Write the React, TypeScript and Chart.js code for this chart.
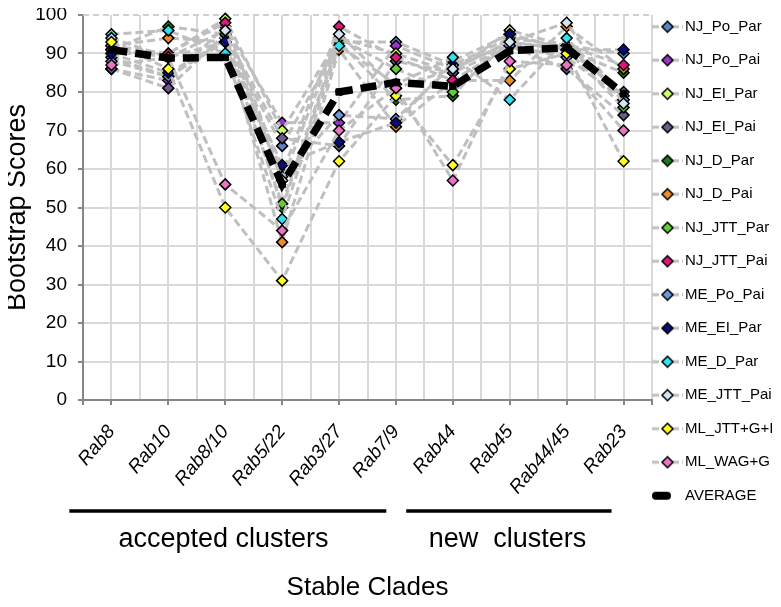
import React, { useEffect, useRef } from 'react';
import { Chart, registerables } from 'chart.js';

Chart.register(...registerables);

const categories = ['Rab8', 'Rab10', 'Rab8/10', 'Rab5/22', 'Rab3/27', 'Rab7/9', 'Rab44', 'Rab45', 'Rab44/45', 'Rab23'];

const NJ_Po_Par = [89, 84, 94, 66, 93, 93, 87, 94, 92, 90];
const NJ_Po_Pai = [86, 83, 97, 72, 72, 92, 86, 93, 91, 80];
const NJ_EI_Par = [92, 90, 99, 70, 94, 90, 85, 96, 92, 79];
const NJ_EI_Pai = [86, 81, 95, 68, 66, 88, 85, 92, 86, 74];
const NJ_D_Par = [91, 97, 95, 50, 93, 78, 79, 95, 91, 85];
const NJ_D_Pai = [92, 94, 93, 41, 91, 71, 83, 83, 97, 86];
const NJ_JTT_Par = [91, 89, 93, 51, 94, 86, 80, 93, 91, 76];
const NJ_JTT_Pai = [90, 90, 98, 59, 97, 89, 83, 92, 92, 87];
const ME_Po_Pai = [88, 84, 93, 58, 74, 73, 87, 92, 89, 78];
const ME_EI_Par = [90, 85, 93, 61, 67, 72, 88, 95, 91, 91];
const ME_D_Par = [95, 96, 90, 47, 92, 82, 89, 78, 94, 78];
const ME_JTT_Pai = [94, 89, 96, 57, 95, 81, 86, 93, 98, 77];
const ML_JTT_G_I = [93, 86, 50, 31, 62, 79, 61, 86, 90, 62];
const ML_WAG_G = [87, 89, 56, 44, 70, 81, 57, 88, 87, 70];
const AVERAGE = [91, 88.8, 89, 56, 80, 82.5, 81.5, 90.7, 91.5, 79.5];

const seriesNames = ['NJ_Po_Par', 'NJ_Po_Pai', 'NJ_EI_Par', 'NJ_EI_Pai', 'NJ_D_Par', 'NJ_D_Pai', 'NJ_JTT_Par', 'NJ_JTT_Pai', 'ME_Po_Pai', 'ME_EI_Par', 'ME_D_Par', 'ME_JTT_Pai', 'ML_JTT+G+I', 'ML_WAG+G'];
const seriesValues = [NJ_Po_Par, NJ_Po_Pai, NJ_EI_Par, NJ_EI_Pai, NJ_D_Par, NJ_D_Pai, NJ_JTT_Par, NJ_JTT_Pai, ME_Po_Pai, ME_EI_Par, ME_D_Par, ME_JTT_Pai, ML_JTT_G_I, ML_WAG_G];
const seriesColors = ['#5b84c4', '#9b35c9', '#ccff66', '#6e5a8e', '#1e7a1e', '#f08a24', '#66cc33', '#e0157a', '#6f98d8', '#0a0a78', '#33e0f0', '#d6e4f2', '#ffff22', '#ec72c6'];

const yTicks = [0, 10, 20, 30, 40, 50, 60, 70, 80, 90, 100];
const groupLabels = ['accepted clusters', 'new  clusters'];
const groupStart = [-0.74, 5.18];
const groupEnd = [4.83, 8.79];
const groupCenter = [1.97, 6.96];

const FONT = '"Liberation Sans", Arial, sans-serif';

function makeIcon(fill: string | null): HTMLCanvasElement {
  const c = document.createElement('canvas');
  c.width = 31;
  c.height = 14;
  const g = c.getContext('2d')!;
  if (fill) {
    g.strokeStyle = '#bfbfbf';
    g.lineWidth = 3;
    g.setLineDash([7, 3]);
    g.beginPath();
    g.moveTo(0, 7);
    g.lineTo(31, 7);
    g.stroke();
    g.setLineDash([]);
    g.beginPath();
    g.moveTo(15.5, 1.5);
    g.lineTo(21, 7);
    g.lineTo(15.5, 12.5);
    g.lineTo(10, 7);
    g.closePath();
    g.fillStyle = fill;
    g.fill();
    g.strokeStyle = '#000';
    g.lineWidth = 1.5;
    g.stroke();
  } else {
    g.strokeStyle = '#000';
    g.lineWidth = 8;
    g.lineCap = 'round';
    g.beginPath();
    g.moveTo(4, 7);
    g.lineTo(15, 7);
    g.stroke();
  }
  return c;
}

const isInt = (v: number) => Math.abs(v - Math.round(v)) < 1e-6;

export default function App() {
  const ref = useRef<HTMLCanvasElement | null>(null);

  useEffect(() => {
    if (!ref.current) return;
    Chart.defaults.font.family = FONT;
    Chart.defaults.color = '#000';

    const icons = seriesColors.map((c) => makeIcon(c));
    icons.push(makeIcon(null));

    const datasets: any[] = seriesValues.map((vals, i) => ({
      label: seriesNames[i],
      data: vals.map((v, j) => ({ x: j, y: v })),
      borderColor: '#bfbfbf',
      borderWidth: 3,
      borderDash: [8, 4],
      pointStyle: 'rectRot',
      pointRadius: 5.5,
      pointBackgroundColor: seriesColors[i],
      pointBorderColor: '#000',
      pointBorderWidth: 1.5,
      tension: 0,
      fill: false,
      clip: false,
      order: 20 - i,
    }));
    datasets.push({
      label: 'AVERAGE',
      data: AVERAGE.map((v, j) => ({ x: j, y: v })),
      borderColor: '#000',
      borderWidth: 7.5,
      borderDash: [16, 8],
      pointStyle: 'rect',
      pointRadius: 4.5,
      pointBackgroundColor: '#000',
      pointBorderColor: '#000',
      pointBorderWidth: 1,
      tension: 0,
      fill: false,
      clip: false,
      order: 0,
    });

    const annot = {
      id: 'annot',
      afterLayout(chart: any) {
        const lg = chart.legend;
        const ca = chart.chartArea;
        if (lg) {
          const h = lg.height;
          lg.left = ca.right - 13;
          lg.right = chart.width;
          lg.top = -7.3;
          lg.bottom = lg.top + h;
        }
      },
      beforeDatasetsDraw(chart: any) {
        const { ctx, chartArea } = chart;
        ctx.save();
        ctx.strokeStyle = '#cfcfcf';
        ctx.lineWidth = 2;
        ctx.setLineDash([6, 4]);
        ctx.beginPath();
        ctx.moveTo(chartArea.left, chartArea.top);
        ctx.lineTo(chartArea.right, chartArea.top);
        ctx.stroke();
        ctx.restore();
      },
      afterDraw(chart: any) {
        const { ctx } = chart;
        const xs = chart.scales.x;
        ctx.save();
        ctx.strokeStyle = '#000';
        ctx.lineWidth = 3.3;
        ctx.fillStyle = '#000';
        ctx.font = '27px ' + FONT;
        ctx.textAlign = 'center';
        ctx.textBaseline = 'alphabetic';
        groupLabels.forEach((lab, i) => {
          ctx.beginPath();
          ctx.moveTo(xs.getPixelForValue(groupStart[i]), 503);
          ctx.lineTo(xs.getPixelForValue(groupEnd[i]), 503);
          ctx.stroke();
          ctx.fillText(lab, xs.getPixelForValue(groupCenter[i]), 539);
        });
        ctx.restore();
      },
    };

    const chart = new Chart(ref.current, {
      type: 'line',
      data: { datasets },
      plugins: [annot],
      options: {
        animation: false,
        responsive: false,
        maintainAspectRatio: false,
        layout: { padding: 0 },
        plugins: {
          tooltip: { enabled: false },
          legend: {
            position: 'right',
            align: 'start',
            maxWidth: 121,
            labels: {
              usePointStyle: true,
              pointStyleWidth: 20,
              boxHeight: 15,
              padding: 18.5,
              color: '#000',
              font: { size: 15, family: FONT },
              generateLabels: (ch: any) =>
                ch.data.datasets.map((ds: any, i: number) => ({
                  text: ds.label,
                  pointStyle: icons[i],
                  fillStyle: 'transparent',
                  strokeStyle: 'transparent',
                  lineWidth: 0,
                  hidden: false,
                  datasetIndex: i,
                  fontColor: '#000',
                })),
            },
          },
        },
        scales: {
          x: {
            type: 'linear',
            min: -0.5,
            max: 9.5,
            afterFit: (s: any) => {
              s.height = 199;
              s.paddingLeft = 0;
              s.paddingRight = 0;
            },
            ticks: {
              stepSize: 0.5,
              maxTicksLimit: 40,
              autoSkip: false,
              minRotation: 50,
              maxRotation: 50,
              padding: 16,
              color: '#000',
              font: { size: 19, style: 'italic', family: FONT },
              callback: (v: any) => (isInt(Number(v)) && Number(v) >= 0 && Number(v) <= 9 ? categories[Math.round(Number(v))] : ''),
            },
            grid: {
              color: '#d9d9d9',
              lineWidth: 2,
              tickLength: 5,
              tickWidth: 2,
              tickColor: (c: any) => {
                const v = c.tick ? c.tick.value : 0;
                return isInt(v) || v <= -0.5 || v >= 9.5 ? '#868686' : 'rgba(0,0,0,0)';
              },
            },
            border: { color: '#868686', width: 2 },
            title: {
              display: true,
              text: 'Stable Clades',
              color: '#000',
              font: { size: 26, family: FONT, lineHeight: 1 },
              padding: { top: 0, bottom: -2 },
            },
          },
          y: {
            type: 'linear',
            min: 0,
            max: 100,
            afterFit: (s: any) => {
              s.width = 79;
              s.paddingTop = 4;
              s.paddingBottom = 0;
            },
            afterBuildTicks: (s: any) => {
              s.ticks = yTicks.map((v) => ({ value: v }));
            },
            ticks: {
              padding: 11,
              color: '#000',
              font: { size: 19, family: FONT, lineHeight: 1 },
            },
            grid: {
              color: (c: any) => (c.tick && c.tick.value === 100 ? 'rgba(0,0,0,0)' : '#d9d9d9'),
              lineWidth: 2,
              tickLength: 5,
              tickWidth: 2,
              tickColor: '#868686',
            },
            border: { color: '#868686', width: 2 },
            title: {
              display: true,
              text: 'Bootstrap Scores',
              color: '#000',
              font: { size: 27, family: FONT, lineHeight: 1 },
              padding: { top: 0.5, bottom: 0 },
            },
          },
        },
      } as any,
    });

    return () => chart.destroy();
  }, []);

  return (
    <div style={{ width: 765, height: 591 }}>
      <canvas
        ref={ref}
        width={769}
        height={591}
        style={{ display: 'block', width: 769, height: 591, marginLeft: -4 }}
      />
    </div>
  );
}
